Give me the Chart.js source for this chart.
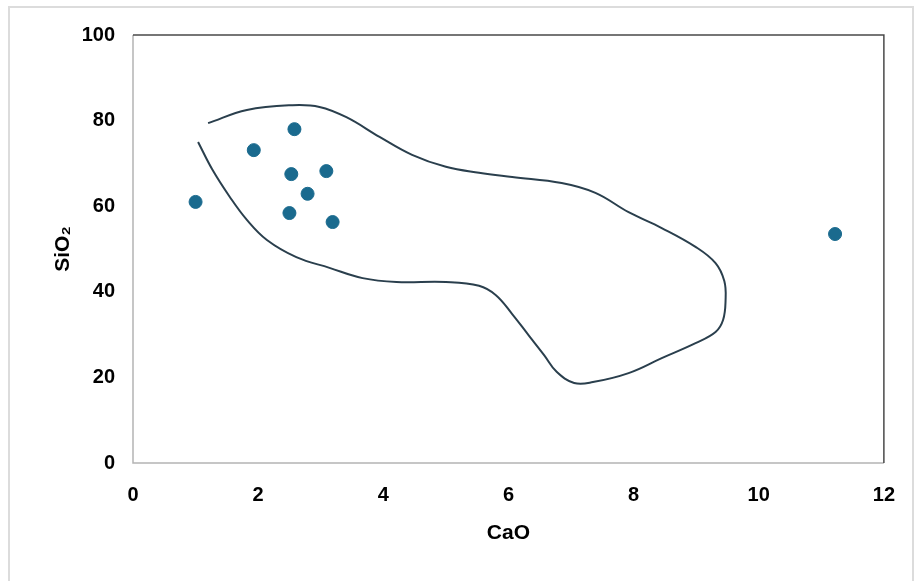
<!DOCTYPE html>
<html>
<head>
<meta charset="utf-8">
<script src="https://cdn.jsdelivr.net/npm/chart.js@4.4.0/dist/chart.umd.min.js"></script>
<style>
  html, body { margin: 0; padding: 0; background: #fff; }
  #wrap { width: 915px; height: 581px; position: relative; }
</style>
</head>
<body>
<div id="wrap"><canvas id="scatterChart"></canvas></div>
<script>
// sample points
var cao  = [1.0, 1.93, 2.58, 2.53, 3.09, 2.79, 2.5, 3.19, 11.22];
var sio2 = [61.0, 73.1, 78.0, 67.5, 68.2, 62.9, 58.4, 56.3, 53.5];

// hand drawn field boundary (open curve)
var boundaryCaO  = [1.20, 1.82, 2.55, 2.98, 3.41, 3.94, 4.46, 5.00, 5.53, 6.06, 6.85, 7.39, 7.92, 8.45, 8.99, 9.31, 9.45, 9.47, 9.43, 9.31, 8.99, 8.45, 7.92, 7.35, 7.05, 6.77, 6.57, 6.33, 6.06, 5.80, 5.53, 5.00, 4.21, 3.67, 3.14, 2.61, 2.14, 1.82, 1.55, 1.27, 1.04];
var boundarySiO2 = [79.4, 82.5, 83.6, 83.2, 80.8, 76.2, 72.0, 69.2, 67.8, 66.8, 65.4, 63.1, 58.6, 54.9, 50.5, 46.7, 42.5, 38.0, 33.4, 30.6, 28.0, 24.5, 21.0, 18.9, 18.7, 21.3, 25.2, 29.7, 34.8, 39.2, 41.4, 42.3, 42.3, 43.2, 45.6, 48.1, 52.1, 56.8, 62.1, 68.5, 75.0];

var xTicks = [0, 2, 4, 6, 8, 10, 12];
var yTicks = [0, 20, 40, 60, 80, 100];

function pairs(xs, ys) {
    return xs.map(function(x, i) { return {x: x, y: ys[i]}; });
}

var frame = {
    id: 'frame',
    beforeDraw: function(chart) {
        var ctx = chart.ctx;
        ctx.save();
        ctx.strokeStyle = '#dcdcdc';
        ctx.lineWidth = 2;
        ctx.strokeRect(9, 7, 904, 600);
        ctx.restore();
    },
    afterDatasetsDraw: function(chart) {
        var a = chart.chartArea, ctx = chart.ctx;
        ctx.save();
        ctx.lineWidth = 1.5;
        ctx.strokeStyle = '#b4b4b4';
        ctx.beginPath();
        ctx.moveTo(a.left, a.top);
        ctx.lineTo(a.left, a.bottom);
        ctx.lineTo(a.right, a.bottom);
        ctx.stroke();
        ctx.strokeStyle = '#4a4a4a';
        ctx.beginPath();
        ctx.moveTo(a.left, a.top);
        ctx.lineTo(a.right, a.top);
        ctx.lineTo(a.right, a.bottom);
        ctx.stroke();
        ctx.restore();
    }
};

var tickFont = {family: 'Liberation Sans, Arial, sans-serif', size: 20, weight: 'bold'};
var titleFont = {family: 'Liberation Sans, Arial, sans-serif', size: 21, weight: 'bold'};

new Chart(document.getElementById('scatterChart').getContext('2d'), {
    type: 'scatter',
    data: {
        datasets: [{
            label: 'Samples',
            data: pairs(cao, sio2),
            backgroundColor: '#1a6a8e',
            borderColor: '#1a6a8e',
            pointRadius: 6.5,
            pointHoverRadius: 6.5
        }, {
            label: 'Field',
            data: pairs(boundaryCaO, boundarySiO2),
            showLine: true,
            borderColor: '#2a3f4d',
            borderWidth: 2,
            tension: 0.4,
            pointRadius: 0,
            fill: false
        }]
    },
    options: {
        responsive: true,
        maintainAspectRatio: false,
        animation: false,
        layout: {padding: {left: 0, top: 35, right: 29, bottom: 0}},
        plugins: {legend: {display: false}, tooltip: {enabled: false}},
        scales: {
            x: {
                type: 'linear', min: 0, max: 12,
                afterFit: function(s) { s.height = 118; },
                afterBuildTicks: function(s) { s.ticks = xTicks.map(function(v) { return {value: v}; }); },
                grid: {display: false, drawTicks: false},
                border: {display: false},
                ticks: {color: '#000', font: tickFont, padding: 20, maxRotation: 0},
                title: {display: true, text: 'CaO', color: '#000', font: titleFont, padding: {top: 0, bottom: 35}}
            },
            y: {
                type: 'linear', min: 0, max: 100,
                afterFit: function(s) { s.width = 133; },
                afterBuildTicks: function(s) { s.ticks = yTicks.map(function(v) { return {value: v}; }); },
                grid: {display: false, drawTicks: false},
                border: {display: false},
                ticks: {color: '#000', font: tickFont, padding: 18},
                title: {display: true, text: 'SiO₂', color: '#000', font: titleFont, padding: {top: 51, bottom: 0}}
            }
        }
    },
    plugins: [frame]
});
</script>
</body>
</html>
